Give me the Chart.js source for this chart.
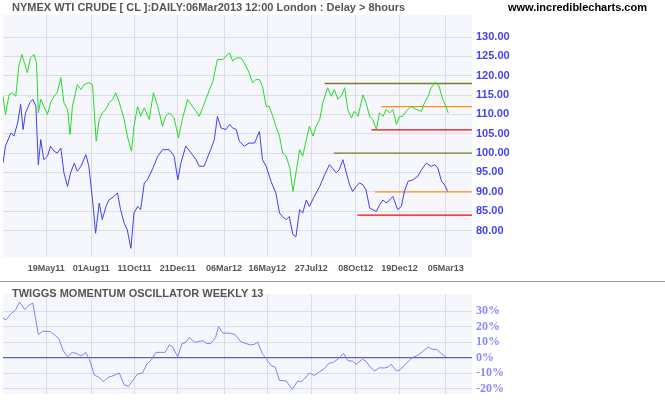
<!DOCTYPE html>
<html><head><meta charset="utf-8">
<script src="https://cdn.jsdelivr.net/npm/chart.js@4"></script>
<style>
body{margin:0;background:#fff;width:665px;height:405px;overflow:hidden;position:relative;font-family:"Liberation Sans",Arial,sans-serif}
#c1{position:absolute;left:0;top:0}
#c2{position:absolute;left:0;top:283px}
.t{position:absolute;font-weight:bold;font-size:11px;white-space:nowrap}
#sep{position:absolute;left:0;top:281px;width:665px;height:1px;background:#999}
</style></head><body>
<canvas id="c1" width="665" height="282"></canvas>
<div id="sep"></div>
<canvas id="c2" width="665" height="122"></canvas>
<div class="t" style="left:12px;top:1px;color:#555">NYMEX WTI CRUDE [ CL ]:DAILY:06Mar2013 12:00 London : Delay &gt; 8hours</div>
<div class="t" style="left:508px;top:1px;color:#000">www.incrediblecharts.com</div>
<div class="t" style="left:12px;top:287px;color:#555">TWIGGS MOMENTUM OSCILLATOR WEEKLY 13</div>
<script>
// x values are days since 09 Mar 2011
const tickDays=[71,145,216,287,363,434,506,579,651,727];
const tickLabels=["19May11","01Aug11","11Oct11","21Dec11","06Mar12","16May12","27Jul12","08Oct12","19Dec12","05Mar13"];
const greenX=[0,4,10,15,21,26,31,35,40,45,51,55,58,62,67,73,78,84,89,95,100,106,110,114,122,128,133,141,147,153,158,163,169,174,180,185,191,199,204,211,215,221,226,232,240,247,254,262,267,273,281,288,295,303,311,317,322,330,339,344,352,361,366,372,377,383,391,399,404,410,415,421,426,432,437,443,448,454,459,465,471,476,481,487,492,498,503,509,514,520,525,533,539,544,550,555,561,566,572,577,583,591,596,602,607,613,618,624,629,635,640,646,651,656,662,670,678,687,692,698,703,710,716,721,727,731];
const greenY=[114.7,110.0,115.1,115.6,114.7,122.5,125.5,123.4,120.8,124.6,125.5,123.4,110.4,113.9,112.1,110.0,113.0,114.7,115.6,119.5,113.0,111.3,104.8,112.1,117.7,116.4,117.7,118.2,117.7,103.1,108.7,110.4,111.3,113.0,113.9,115.6,113.0,108.7,104.4,100.5,106.9,112.1,109.5,111.7,108.7,115.6,112.1,106.9,109.5,110.4,109.1,103.9,109.1,113.9,112.1,110.8,109.5,112.6,116.4,118.2,124.2,124.2,125.1,125.9,123.8,124.6,124.6,122.5,120.8,118.2,119.0,119.0,117.3,112.1,112.1,109.5,106.9,104.4,100.0,99.2,96.1,90.1,94.9,100.9,99.2,103.5,106.9,104.4,106.9,108.7,113.0,116.9,114.7,116.4,113.9,114.7,116.9,111.3,109.1,110.8,109.5,115.1,113.0,109.5,108.7,106.1,110.4,109.5,111.3,110.4,111.3,107.4,109.5,109.5,110.8,112.1,111.3,110.8,113.0,114.7,116.9,118.3,117.3,114.3,112.1,110.4];
const blueX=[0,4,13,18,24,29,33,37,44,49,54,58,62,67,73,78,84,89,95,100,106,111,117,122,128,136,141,147,152,158,163,169,174,182,188,193,199,204,210,215,221,226,232,237,245,254,262,273,281,287,292,300,309,317,322,330,341,347,352,358,366,372,377,383,388,396,404,413,421,426,432,440,448,454,459,465,470,476,481,487,492,498,503,511,520,528,536,541,547,552,558,563,569,574,580,585,591,596,602,607,613,618,624,629,635,640,648,654,659,665,673,681,687,695,703,709,714,720,725,730];
const blueY=[97.4,101.8,105.2,104.4,107.8,112.6,106.1,110.4,113.0,113.9,112.1,97.0,103.5,98.3,99.2,101.8,100.5,100.0,101.3,94.9,91.4,94.9,97.4,95.3,96.6,99.6,96.6,87.9,79.3,87.1,82.8,86.2,87.9,88.8,89.7,85.4,81.9,80.2,75.4,84.5,86.2,85.4,92.3,93.1,95.7,99.2,100.9,100.9,99.2,93.1,97.4,101.8,100.0,98.3,96.6,96.6,100.9,103.5,109.5,106.5,106.1,107.4,106.5,106.1,103.1,101.8,102.6,102.6,105.6,98.3,96.6,92.7,89.7,84.5,83.6,82.8,83.6,78.9,78.4,85.4,84.5,87.9,86.2,88.8,91.4,94.4,97.0,96.1,94.9,95.7,98.3,95.3,91.8,90.1,91.4,92.3,91.8,90.5,85.8,85.4,84.9,86.6,87.9,87.1,87.9,88.8,85.4,86.2,90.1,92.7,93.1,94.0,95.7,97.4,96.6,97.0,96.1,92.7,91.8,90.1];
const momX=[0,5,13,21,27,36,43,49,58,65,78,84,92,99,106,114,122,128,136,142,150,158,165,172,180,191,199,206,213,221,229,236,244,251,259,266,273,278,287,294,299,306,314,319,328,334,341,349,354,361,372,381,391,399,406,413,418,426,432,440,447,454,465,475,484,489,495,503,511,520,528,535,541,550,559,566,574,580,590,596,603,610,618,626,632,637,646,651,659,668,673,681,689,698,706,712,720,727];
const momY=[25.3,24.4,28.2,31.0,35.8,31.0,33.9,35.2,14.9,17.1,16.8,14.9,12.0,4.4,0.6,3.4,2.5,1.0,3.4,-1.3,-11.2,-12.8,-15.6,-12.8,-11.8,-9.9,-17.5,-18.5,-14.7,-10.5,-9.9,-4.2,-1.3,3.4,3.4,3.4,8.2,7.2,0.6,9.1,9.5,13.0,10.1,10.1,11.0,9.1,9.1,13.0,20.0,15.8,15.8,14.9,10.1,9.1,8.2,8.6,10.1,2.5,-0.4,-5.1,-6.1,-14.7,-15.0,-20.4,-15.0,-15.6,-13.7,-9.9,-11.4,-9.0,-7.0,-3.6,-3.2,-1.0,2.9,-1.9,-2.3,-4.2,-1.0,-2.3,-6.1,-8.6,-6.5,-6.7,-6.1,-4.2,-8.6,-8.0,-5.1,-1.3,0.2,1.5,4.0,6.7,5.3,5.3,2.5,0.6];
// support/resistance lines: [level, startDay, colour]
const levelValues=[118,112,106,100,90,84];
const levelStarts=[528,621,605,543,611,582];
const levelColors=["#7a7a1e","#ff8c1a","#ff0000","#7a7a1e","#ff8c1a","#ff0000"];
const xEnd=770;

const zip=(xs,ys)=>xs.map((x,i)=>({x,y:ys[i]}));
const bgPlugin={id:'bg',beforeDraw(c){const a=c.chartArea,g=c.ctx;g.save();g.fillStyle='#f6f7fd';g.fillRect(a.left,a.top,a.right-a.left,a.bottom-a.top);g.restore();}};
const xCommon=(show)=>({type:'linear',min:0,max:xEnd,
  afterBuildTicks:ax=>{ax.ticks=tickDays.map(v=>({value:v}));},
  grid:{color:'#dcdde6',drawTicks:false},border:{display:false},
  ticks:{display:show,autoSkip:false,maxRotation:0,padding:6,color:'#555',font:{family:'Liberation Sans',size:9,weight:'bold'},
    callback:v=>{const i=tickDays.indexOf(v);return i>=0?tickLabels[i]:'';}}});
const yAfterFit=ax=>{ax.width=193;};

const levelSets=levelValues.map((v,i)=>({data:[{x:levelStarts[i],y:v},{x:xEnd,y:v}],borderColor:levelColors[i],borderWidth:1.3,pointRadius:0}));
new Chart(document.getElementById('c1'),{type:'line',
  data:{datasets:[
    {data:zip(greenX,greenY),borderColor:'#22dd22',borderWidth:1,pointRadius:0,tension:0},
    {data:zip(blueX,blueY),borderColor:'#4040ee',borderWidth:1,pointRadius:0,tension:0},
    ...levelSets]},
  options:{responsive:false,animation:false,layout:{padding:{top:15,left:3,bottom:2,right:0}},
    plugins:{legend:{display:false},tooltip:{enabled:false}},
    scales:{x:xCommon(true),
      y:{position:'right',min:73.1,max:135.7,afterFit:yAfterFit,
        afterBuildTicks:ax=>{ax.ticks=[80,85,90,95,100,105,110,115,120,125,130].map(v=>({value:v}));},
        grid:{color:'#dcdde6',drawTicks:false},border:{display:false},
        ticks:{padding:4,color:'#4444ee',font:{family:'Liberation Sans',size:11,weight:'bold'},callback:v=>v.toFixed(2)}}}},
  plugins:[bgPlugin]});

new Chart(document.getElementById('c2'),{type:'line',
  data:{datasets:[
    {data:zip(momX,momY),borderColor:'#8080ff',borderWidth:1,pointRadius:0,tension:0},
    {data:[{x:0,y:0},{x:xEnd,y:0}],borderColor:'#6060a8',borderWidth:1.2,pointRadius:0}]},
  options:{responsive:false,animation:false,layout:{padding:{top:4,left:3,bottom:7,right:0}},
    plugins:{legend:{display:false},tooltip:{enabled:false}},
    scales:{x:xCommon(false),
      y:{position:'right',min:-23.3,max:40.9,afterFit:yAfterFit,
        afterBuildTicks:ax=>{ax.ticks=[-20,-10,0,10,20,30].map(v=>({value:v}));},
        grid:{color:'#dcdde6',drawTicks:false},border:{display:false},
        ticks:{padding:4,color:'#8888ff',font:{family:'Liberation Serif',size:12,weight:'bold'},callback:v=>v+'%'}}}},
  plugins:[bgPlugin]});
</script></body></html>
